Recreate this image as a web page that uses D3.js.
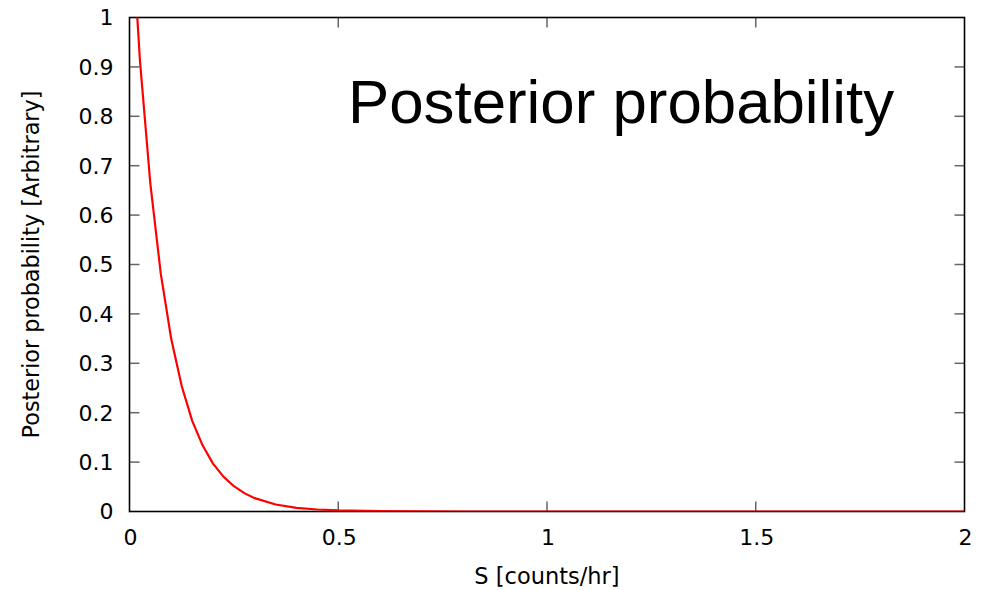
<!DOCTYPE html>
<html>
<head>
<meta charset="utf-8">
<script src="https://cdn.jsdelivr.net/npm/d3@7"></script>
<style>
  html, body { margin: 0; padding: 0; background: #fff; }
  svg { display: block; }
</style>
</head>
<body>
<svg id="chart" width="987" height="590"></svg>
<script>
// ---- data ----
const sValues = [0, 0.025, 0.05, 0.075, 0.1, 0.125, 0.15, 0.175, 0.2, 0.225, 0.25, 0.275, 0.3, 0.35, 0.4, 0.45, 0.5, 0.6, 0.7, 0.8, 1.0, 1.2, 1.4, 1.6, 1.8, 2.0];
const posterior = [1.257, 0.913, 0.663, 0.481, 0.349, 0.254, 0.184, 0.134, 0.097, 0.0706, 0.0512, 0.0372, 0.027, 0.0142, 0.0075, 0.004, 0.0021, 0.0006, 0.0002, 0, 0, 0, 0, 0, 0, 0];
const xTicks = [0, 0.5, 1, 1.5, 2];
const xTickLabels = ["0", "0.5", "1", "1.5", "2"];
const yTicks = [0, 0.1, 0.2, 0.3, 0.4, 0.5, 0.6, 0.7, 0.8, 0.9, 1];
const yTickLabels = ["0", "0.1", "0.2", "0.3", "0.4", "0.5", "0.6", "0.7", "0.8", "0.9", "1"];
const titleText = "Posterior probability";
const xLabel = "S [counts/hr]";
const yLabel = "Posterior probability [Arbitrary]";

(function () {
// ---- layout ----
const pLeft = 129.5, pRight = 964.5, pTop = 17.5, pBottom = 511.5;
const svg = d3.select("#chart");
const x = d3.scaleLinear().domain([0, 2]).range([pLeft, pRight]);
const y = d3.scaleLinear().domain([0, 1]).range([pBottom, pTop]);
const tickFont = "'DejaVu Sans', sans-serif";
const tickLen = 10;
const tickColor = "#666";

svg.append("defs").append("clipPath").attr("id", "plotclip")
  .append("rect").attr("x", pLeft).attr("y", pTop)
  .attr("width", pRight - pLeft).attr("height", pBottom - pTop);

// ticks (inward, mirrored)
const g = svg.append("g");
yTicks.forEach(v => {
  if (v === 0 || v === 1) return;
  g.append("line").attr("x1", pLeft).attr("x2", pLeft + tickLen)
    .attr("y1", y(v)).attr("y2", y(v)).attr("stroke", tickColor).attr("stroke-width", 1.5);
  g.append("line").attr("x1", pRight).attr("x2", pRight - tickLen)
    .attr("y1", y(v)).attr("y2", y(v)).attr("stroke", tickColor).attr("stroke-width", 1.5);
});
xTicks.forEach(v => {
  if (v === 0 || v === 2) return;
  g.append("line").attr("x1", x(v)).attr("x2", x(v))
    .attr("y1", pBottom).attr("y2", pBottom - tickLen).attr("stroke", tickColor).attr("stroke-width", 1.5);
  g.append("line").attr("x1", x(v)).attr("x2", x(v))
    .attr("y1", pTop).attr("y2", pTop + tickLen).attr("stroke", tickColor).attr("stroke-width", 1.5);
});

// frame
svg.append("rect").attr("x", pLeft).attr("y", pTop)
  .attr("width", pRight - pLeft).attr("height", pBottom - pTop)
  .attr("fill", "none").attr("stroke", "#000").attr("stroke-width", 1.6);

// tick labels
yTicks.forEach((v, i) => {
  svg.append("text").attr("x", pLeft - 16).attr("y", y(v)).attr("dy", "0.36em")
    .attr("text-anchor", "end").attr("font-family", tickFont).attr("font-size", 22)
    .attr("fill", "#000").text(yTickLabels[i]);
});
xTicks.forEach((v, i) => {
  svg.append("text").attr("x", x(v) + 1).attr("y", 545)
    .attr("text-anchor", "middle").attr("font-family", tickFont).attr("font-size", 22)
    .attr("fill", "#000").text(xTickLabels[i]);
});

// axis titles
svg.append("text").attr("x", x(1)).attr("y", 584)
  .attr("text-anchor", "middle").attr("font-family", tickFont).attr("font-size", 22.5)
  .attr("fill", "#000").text(xLabel);
svg.append("text")
  .attr("transform", `translate(39, ${(pTop + pBottom) / 2}) rotate(-90)`)
  .attr("text-anchor", "middle").attr("font-family", tickFont).attr("font-size", 22.3)
  .attr("fill", "#000").text(yLabel);

// big title
svg.append("text").attr("x", 348).attr("y", 123)
  .attr("font-family", "'Liberation Sans', Arial, sans-serif").attr("font-size", 61.8)
  .attr("fill", "#000").text(titleText);

// curve
const pts = sValues.map((s, i) => [s, posterior[i]]);
svg.append("path").datum(pts)
  .attr("clip-path", "url(#plotclip)")
  .attr("fill", "none").attr("stroke", "#ff0000").attr("stroke-width", 2.2)
  .attr("stroke-linejoin", "round")
  .attr("d", d3.line().x(d => x(d[0])).y(d => y(d[1])));
})();
</script>
</body>
</html>
